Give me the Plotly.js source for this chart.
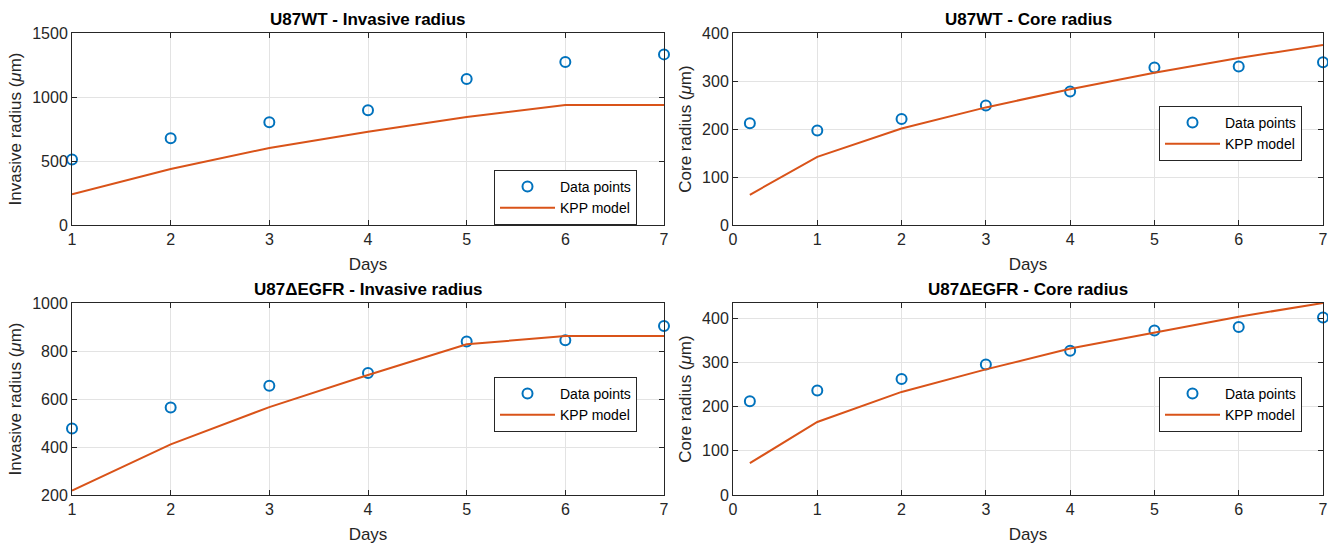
<!DOCTYPE html>
<html><head><meta charset="utf-8">
<script src="https://cdn.plot.ly/plotly-3.0.1.min.js"></script>
<style>html,body{margin:0;padding:0;background:#fff}#p{width:1328px;height:547px}</style>
</head><body><div id="p"></div>
<script>
const daysA = [1, 2, 3, 4, 5, 6, 7];
const daysB = [0.2, 1, 2, 3, 4, 5, 6, 7];

const wtInvData  = [512, 677, 802, 896, 1141, 1273, 1333];
const wtInvModel = [240, 437, 602, 729, 844, 938, 938];
const wtCoreData  = [212, 197, 221, 249, 278, 328, 330, 339];
const wtCoreModel = [63, 142, 201, 245, 283, 317, 348, 375];
const egInvData  = [477, 565, 655, 708, 840, 845, 904];
const egInvModel = [218, 411, 566, 700, 828, 862, 862];
const egCoreData  = [212, 236, 262, 295, 326, 372, 380, 401];
const egCoreModel = [72, 165, 233, 284, 331, 367, 403, 434];

const titles = ['U87WT - Invasive radius', 'U87WT - Core radius', 'U87\u0394EGFR - Invasive radius', 'U87\u0394EGFR - Core radius'];

const blue = '#0072BD', orange = '#D95319';
const fontFam = 'Liberation Sans, Arial, Helvetica, sans-serif';

function pair(x, d, m, idx) {
  const sfx = idx === 1 ? '' : String(idx);
  const leg = idx === 1 ? 'legend' : 'legend' + idx;
  return [
    {x: x, y: d, type: 'scatter', mode: 'markers', name: 'Data points', xaxis: 'x' + sfx, yaxis: 'y' + sfx, legend: leg,
     marker: {symbol: 'circle-open', size: 10, color: blue, line: {width: 2, color: blue}}, cliponaxis: false},
    {x: x, y: m, type: 'scatter', mode: 'lines', name: 'KPP model', xaxis: 'x' + sfx, yaxis: 'y' + sfx, legend: leg,
     line: {color: orange, width: 2}}
  ];
}

const data = [].concat(
  pair(daysA, wtInvData, wtInvModel, 1),
  pair(daysB, wtCoreData, wtCoreModel, 2),
  pair(daysA, egInvData, egInvModel, 3),
  pair(daysB, egCoreData, egCoreModel, 4)
);

const W = 1328, H = 547;
const xL = [72 / W, 664 / W], xR = [733 / W, 1323 / W];
const yT = [1 - 225 / H, 1 - 33 / H], yB = [1 - 495 / H, 1 - 303 / H];

function xax(dom, range, anchor) {
  return {domain: dom, range: range, anchor: anchor, dtick: 1, showgrid: true, gridcolor: '#e3e3e3',
    zeroline: false, showline: true, linecolor: '#262626', linewidth: 1, mirror: 'ticks',
    ticks: 'inside', ticklen: 5, tickcolor: '#262626',
    tickfont: {family: fontFam, size: 16, color: '#262626'},
    title: {text: 'Days', font: {family: fontFam, size: 17, color: '#262626'}, standoff: 10}};
}
function yax(dom, range, dtick, anchor, t) {
  return {domain: dom, range: range, anchor: anchor, dtick: dtick, showgrid: true, gridcolor: '#e3e3e3',
    zeroline: false, showline: true, linecolor: '#262626', linewidth: 1, mirror: 'ticks',
    ticks: 'inside', ticklen: 5, tickcolor: '#262626',
    tickfont: {family: fontFam, size: 16, color: '#262626'},
    title: {text: t, font: {family: fontFam, size: 17, color: '#262626'}, standoff: 6}};
}
function legend(xr, yt) {
  return {x: xr, y: yt, xanchor: 'right', yanchor: 'top', bgcolor: '#fff', bordercolor: '#262626', borderwidth: 1,
    font: {family: fontFam, size: 14, color: '#000'}, tracegroupgap: 0, itemwidth: 55};
}

const invT = 'Invasive radius (<i>\u03bc</i>m)';
const coreT = 'Core radius (<i>\u03bc</i>m)';

const layout = {
  width: W, height: H, margin: {l: 0, r: 0, t: 0, b: 0}, paper_bgcolor: '#fff', plot_bgcolor: '#fff',
  xaxis: xax(xL, [1, 7], 'y'), yaxis: yax(yT, [0, 1500], 500, 'x', invT),
  xaxis2: xax(xR, [0, 7], 'y2'), yaxis2: yax(yT, [0, 400], 100, 'x2', coreT),
  xaxis3: xax(xL, [1, 7], 'y3'), yaxis3: yax(yB, [200, 1000], 200, 'x3', invT),
  xaxis4: xax(xR, [0, 7], 'y4'), yaxis4: yax(yB, [0, 434], 100, 'x4', coreT),
  legend: legend(637 / W, 1 - 170 / H),
  legend2: legend(1302 / W, 1 - 106 / H),
  legend3: legend(637 / W, 1 - 377 / H),
  legend4: legend(1302 / W, 1 - 377 / H),
  annotations: [
    {text: '<b>' + titles[0] + '</b>', x: (xL[0] + xL[1]) / 2, y: yT[1]},
    {text: '<b>' + titles[1] + '</b>', x: (xR[0] + xR[1]) / 2, y: yT[1]},
    {text: '<b>' + titles[2] + '</b>', x: (xL[0] + xL[1]) / 2, y: yB[1]},
    {text: '<b>' + titles[3] + '</b>', x: (xR[0] + xR[1]) / 2, y: yB[1]}
  ].map(a => Object.assign(a, {xref: 'paper', yref: 'paper', xanchor: 'center', yanchor: 'bottom', showarrow: false, yshift: 2,
     font: {family: fontFam, size: 17, color: '#000'}})),
  showlegend: true
};

Plotly.newPlot('p', data, layout, {displayModeBar: false, staticPlot: true});
</script></body></html>
